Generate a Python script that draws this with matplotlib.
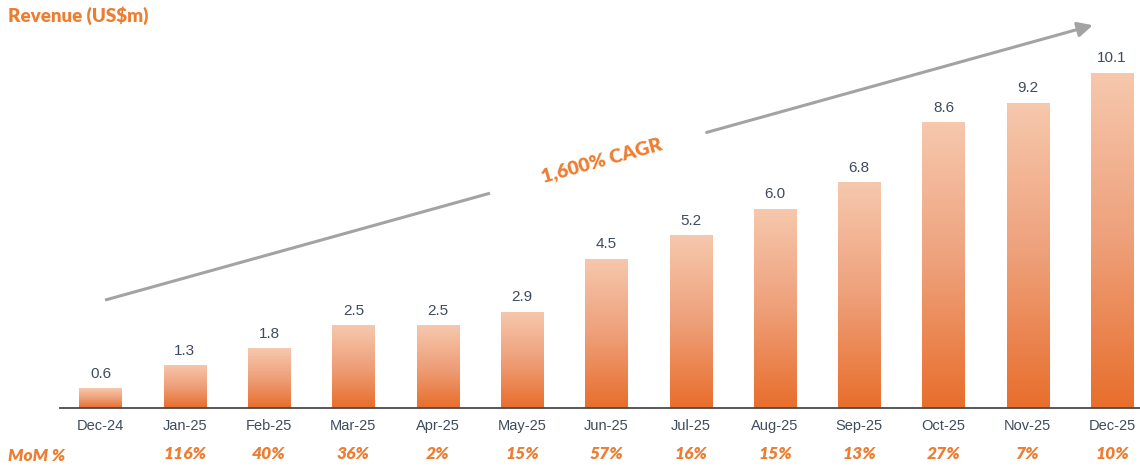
import numpy as np
import matplotlib
matplotlib.use("Agg")
import matplotlib.pyplot as plt
from matplotlib.colors import LinearSegmentedColormap

months = ["Dec-24", "Jan-25", "Feb-25", "Mar-25", "Apr-25", "May-25", "Jun-25",
          "Jul-25", "Aug-25", "Sep-25", "Oct-25", "Nov-25", "Dec-25"]
revenue = [0.6, 1.3, 1.8, 2.5, 2.5, 2.9, 4.5, 5.2, 6.0, 6.8, 8.6, 9.2, 10.1]
mom = ["", "116%", "40%", "36%", "2%", "15%", "57%", "16%", "15%", "13%", "27%", "7%", "10%"]

orange = "#ED7D31"
label_col = "#3F4B5E"
cmap = LinearSegmentedColormap.from_list("bar", ["#E86E2C", "#EEA07A", "#F6C8AD"])

fig = plt.figure(figsize=(11.4, 4.67), dpi=100)
ax = fig.add_axes([60 / 1140, 59 / 467, 1080 / 1140, 388 / 467])

x = np.arange(len(months))
bars = ax.bar(x, revenue, width=0.5, color="none", edgecolor="none")
grad = np.linspace(0, 1, 256).reshape(-1, 1)
for b in bars:
    bx, by = b.get_x(), b.get_y()
    w, h = b.get_width(), b.get_height()
    im = ax.imshow(grad, cmap=cmap, aspect="auto", origin="lower",
                   extent=[bx, bx + w, by, by + h], zorder=2)
    im.set_clip_path(b)

for xi, v in zip(x, revenue):
    ax.text(xi, v + 0.22, f"{v:.1f}", ha="center", va="bottom", fontsize=11,
            color=label_col, family="Liberation Sans")

ax.set_xlim(-0.48, 12.33)
ax.set_ylim(0, 388 / 33.2)
ax.set_xticks(x)
ax.set_xticklabels(months, fontsize=10.5, color=label_col, family="Liberation Sans")
ax.tick_params(axis="x", length=0, pad=8)
ax.set_yticks([])
for s in ["top", "right", "left"]:
    ax.spines[s].set_visible(False)
ax.spines["bottom"].set_color("#4A4A4A")
ax.spines["bottom"].set_linewidth(1.3)

# MoM row
for xi, m in zip(x, mom):
    ax.text(xi, -1.4, m, ha="center", va="center", fontsize=12.5, color=orange,
            fontweight="heavy", style="italic", family="Lato", clip_on=False)
fig.text(8 / 1140, 1 - 456 / 467, "MoM %", ha="left", va="center", fontsize=12.5,
         color=orange, fontweight="heavy", style="italic", family="Lato")

# title
fig.text(8 / 1140, 1 - 16 / 467, "Revenue (US$m)", ha="left", va="center",
         fontsize=13.5, color=orange, fontweight="heavy", family="Lato")

# CAGR arrow, split around the label
arrow_col = "#A3A3A3"
ax.plot([0.054, 4.62], [3.25, 6.47], color=arrow_col, lw=2.2, solid_capstyle="butt",
        clip_on=False)
ax.annotate("", xy=(11.77, 11.53), xytext=(7.19, 8.3),
            arrowprops=dict(arrowstyle="-|>,head_length=0.9,head_width=0.45",
                            color=arrow_col, lw=2.2, shrinkA=0, shrinkB=0),
            annotation_clip=False)
ax.text(5.95, 7.45, "1,600% CAGR", ha="center", va="center", rotation=15.5,
        fontsize=14, color=orange, fontweight="heavy", family="Lato")

fig.savefig("out.png", dpi=100)
